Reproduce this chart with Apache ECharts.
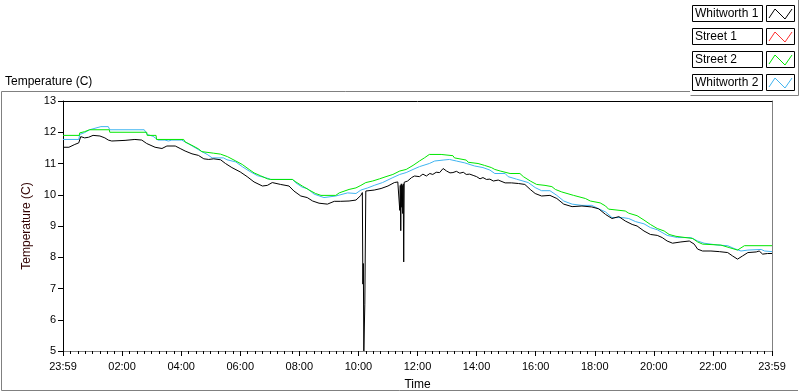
<!DOCTYPE html>
<html>
<head>
<meta charset="utf-8">
<script src="https://cdn.jsdelivr.net/npm/echarts@6/dist/echarts.min.js"></script>
<style>
  html, body { margin: 0; padding: 0; background: #fff; }
  #chart { width: 800px; height: 392px; }
</style>
</head>
<body>
<div id="chart"></div>
<script>
// minutes after 23:59 -> temperature (C)
const w1Time = [0,12,24,32,36,44,52,61,75,85,92,99,126,146,160,170,187,201,211,228,238,248,262,275,286,296,306,320,330,343,360,374,388,405,415,425,442,459,469,483,496,507,520,537,551,564,581,595,605,608,609,610,611,612,613,615,619,632,646,660,673,680,683,684,685,686,687,688,689,690,691,692,693,700,708,714,724,731,738,745,751,758,765,772,779,786,792,799,806,813,819,826,833,840,847,853,860,867,874,884,898,911,925,938,949,959,972,989,1003,1017,1034,1054,1074,1088,1102,1115,1129,1142,1156,1166,1180,1193,1207,1217,1227,1238,1255,1272,1282,1289,1299,1316,1333,1350,1360,1370,1380,1391,1408,1414,1421,1431,1440]
const w1Temp = [11.52,11.52,11.61,11.66,11.86,11.82,11.84,11.9,11.88,11.82,11.75,11.72,11.74,11.77,11.75,11.64,11.52,11.48,11.56,11.56,11.48,11.4,11.31,11.26,11.15,11.13,11.15,11.12,11.0,10.87,10.73,10.58,10.41,10.28,10.3,10.39,10.33,10.28,10.12,9.96,9.91,9.8,9.73,9.7,9.79,9.79,9.8,9.83,9.98,10.07,7.14,7.8,5.0,5.0,6.5,10.12,10.09,10.15,10.2,10.28,10.39,10.41,10.4,9.5,10.3,8.85,10.35,9.6,10.3,9.4,10.35,7.85,10.4,10.44,10.55,10.6,10.58,10.66,10.6,10.68,10.65,10.72,10.71,10.84,10.76,10.7,10.71,10.75,10.69,10.72,10.65,10.66,10.62,10.58,10.51,10.55,10.49,10.5,10.44,10.47,10.38,10.38,10.36,10.33,10.17,10.04,9.96,9.98,9.88,9.7,9.62,9.64,9.61,9.55,9.37,9.24,9.3,9.16,9.05,9.0,8.84,8.73,8.7,8.63,8.52,8.45,8.49,8.52,8.42,8.26,8.2,8.2,8.18,8.15,8.04,7.94,8.04,8.15,8.17,8.2,8.1,8.12,8.12]

const s1Time = []
const s1Temp = []

const s2Time = [0,33,34,44,54,94,95,170,171,189,190,245,248,262,275,282,306,320,334,351,364,378,388,401,415,422,466,473,486,500,513,524,554,561,581,595,605,615,629,643,656,670,684,697,711,724,734,744,768,772,792,795,819,823,843,856,870,877,888,908,928,935,949,962,979,993,1000,1013,1037,1061,1071,1091,1102,1108,1142,1149,1153,1166,1180,1193,1207,1221,1231,1245,1279,1289,1299,1336,1353,1370,1384,1440]
const s2Temp = [11.9,11.9,11.98,12.02,12.08,12.08,12.0,12.0,11.9,11.9,11.77,11.77,11.69,11.58,11.47,11.38,11.33,11.3,11.22,11.08,10.97,10.81,10.7,10.61,10.51,10.49,10.49,10.41,10.28,10.15,10.04,9.98,9.98,10.06,10.17,10.22,10.3,10.39,10.44,10.51,10.58,10.65,10.76,10.81,10.94,11.08,11.18,11.29,11.29,11.25,11.25,11.18,11.11,11.04,11.0,10.94,10.87,10.81,10.76,10.68,10.68,10.58,10.44,10.33,10.3,10.26,10.17,10.09,9.98,9.88,9.8,9.74,9.64,9.54,9.48,9.41,9.37,9.33,9.19,9.05,8.92,8.84,8.73,8.67,8.6,8.49,8.42,8.39,8.31,8.23,8.37,8.37]

const w2Time = [0,32,34,44,54,77,92,95,165,171,183,193,207,214,221,241,255,269,282,293,303,326,333,351,364,378,395,411,422,466,473,486,496,510,530,554,578,581,595,605,619,632,649,670,684,697,711,724,744,755,772,785,799,816,836,853,867,877,898,904,921,945,959,972,989,1003,1017,1034,1054,1074,1088,1102,1115,1136,1149,1163,1180,1193,1207,1227,1248,1275,1289,1302,1330,1350,1363,1377,1391,1418,1425,1440]
const w2Temp = [11.77,11.77,11.93,11.99,12.08,12.18,12.18,12.08,12.08,11.93,11.87,11.75,11.75,11.72,11.75,11.75,11.63,11.5,11.38,11.29,11.18,11.18,11.12,11.05,10.9,10.76,10.61,10.55,10.49,10.49,10.38,10.24,10.2,10.02,9.91,9.96,10.06,10.01,10.04,10.15,10.22,10.3,10.39,10.55,10.65,10.71,10.81,10.9,11.0,11.08,11.11,11.13,11.08,11.02,10.92,10.87,10.79,10.68,10.68,10.58,10.5,10.39,10.23,10.13,10.13,9.98,9.8,9.7,9.66,9.66,9.55,9.45,9.27,9.27,9.24,9.14,9.07,8.95,8.88,8.7,8.63,8.63,8.52,8.45,8.39,8.37,8.28,8.2,8.23,8.25,8.2,8.18]

const names = ['Whitworth 1', 'Street 1', 'Street 2', 'Whitworth 2']
const colors = ['#000000', '#ff3030', '#00e600', '#40b4f0']
const yTicks = [5, 6, 7, 8, 9, 10, 11, 12, 13]

const FONT = 'Liberation Sans'

function pair(t, v) {
  return t.map((x, i) => [x, v[i]])
}

function timeLabel(v) {
  if (v === 0 || v === 1440) return '23:59'
  const h = Math.round(v / 60)
  return (h < 10 ? '0' : '') + h + ':00'
}

const chart = echarts.init(document.getElementById('chart'))

// legend drawn as boxes like the original panel
const legendGraphics = []
names.forEach((n, i) => {
  const y0 = 5 + i * 23
  legendGraphics.push({
    type: 'rect', shape: { x: 692.5, y: y0 + 0.5, width: 70, height: 16 },
    style: { fill: '#fff', stroke: '#000', lineWidth: 1 }
  })
  legendGraphics.push({
    type: 'text', x: 695, y: y0 + 9,
    style: { text: n, fill: '#000', font: '12px ' + FONT, textVerticalAlign: 'middle' }
  })
  legendGraphics.push({
    type: 'rect', shape: { x: 766.5, y: y0 + 0.5, width: 28, height: 16 },
    style: { fill: '#fff', stroke: '#000', lineWidth: 1 }
  })
  legendGraphics.push({
    type: 'polyline',
    shape: { points: [[769, y0 + 13], [775, y0 + 4], [785, y0 + 14], [792, y0 + 4]] },
    style: { stroke: colors[i], fill: null, lineWidth: 1 }
  })
})

chart.setOption({
  animation: false,
  textStyle: { fontFamily: FONT },
  grid: { left: 63, right: 28, top: 101, bottom: 41, show: false, containLabel: false, outerBoundsMode: 'none' },
  graphic: [
    { type: 'polyline', shape: { points: [[690, 91.5], [1.5, 91.5], [1.5, 390.5], [798, 390.5]] },
      style: { stroke: '#808080', fill: null, lineWidth: 1 } },
    { type: 'polyline', shape: { points: [[690.5, 95.5], [798.5, 95.5], [798.5, 0]] },
      style: { stroke: '#808080', fill: null, lineWidth: 1 } },
    { type: 'text', x: 5, y: 82,
      style: { text: 'Temperature (C)', fill: '#000', font: '12px ' + FONT, textVerticalAlign: 'middle' } }
  ].concat(legendGraphics),
  xAxis: [{
    type: 'value', min: 0, max: 1440, interval: 120,
    name: 'Time', nameLocation: 'middle', nameGap: 28,
    nameTextStyle: { color: '#000', fontSize: 12 },
    axisLine: { show: true, lineStyle: { color: '#808080' } },
    axisTick: { show: true, length: 5, lineStyle: { color: '#000' } },
    minorTick: { show: true, splitNumber: 8, length: 3, lineStyle: { color: '#000' } },
    axisLabel: { color: '#000', fontSize: 11, margin: 10, formatter: timeLabel },
    splitLine: { show: false }
  }, {
    type: 'value', position: 'top', min: 0, max: 1440,
    axisLine: { show: true, onZero: false, lineStyle: { color: '#000' } },
    axisTick: { show: false }, axisLabel: { show: false }, splitLine: { show: false }
  }],
  yAxis: [{
    type: 'value', min: yTicks[0], max: yTicks[yTicks.length - 1], interval: 1,
    name: 'Temperature (C)', nameLocation: 'middle', nameGap: 30, nameRotate: 90,
    nameTextStyle: { color: '#300000', fontSize: 12 },
    axisLine: { show: true, lineStyle: { color: '#000' } },
    axisTick: { show: true, length: 5, lineStyle: { color: '#000' } },
    axisLabel: { color: '#000', fontSize: 11, margin: 7 },
    splitLine: { show: false }
  }, {
    type: 'value', position: 'right', min: 5, max: 13,
    axisLine: { show: true, onZero: false, lineStyle: { color: '#808080' } },
    axisTick: { show: false }, axisLabel: { show: false }, splitLine: { show: false }
  }],
  series: [
    { name: names[0], data: pair(w1Time, w1Temp), color: colors[0] },
    { name: names[1], data: pair(s1Time, s1Temp), color: colors[1] },
    { name: names[2], data: pair(s2Time, s2Temp), color: colors[2] },
    { name: names[3], data: pair(w2Time, w2Temp), color: colors[3] }
  ].map(s => Object.assign({
    type: 'line', showSymbol: false, lineStyle: { width: 1 }, z: 2
  }, s)).reverse()
})
</script>
</body>
</html>
